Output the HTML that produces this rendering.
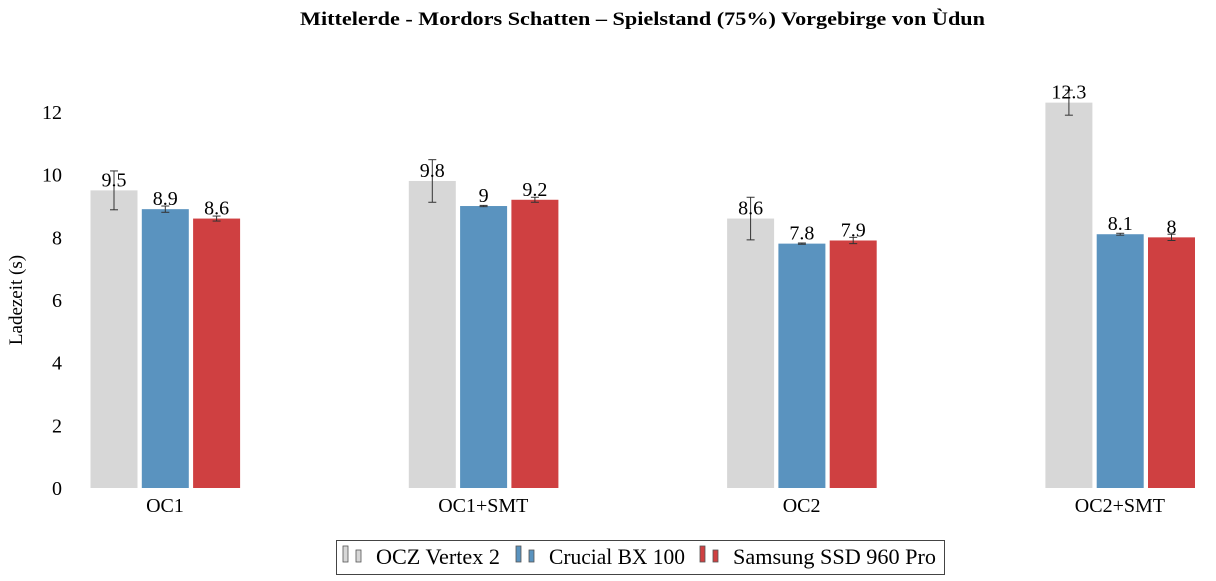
<!DOCTYPE html>
<html><head><meta charset="utf-8"><style>
body{margin:0;background:#fff;width:1216px;height:576px;overflow:hidden}
svg text{font-family:"Liberation Serif",serif;fill:#000}
</style></head><body>
<svg id="chart" width="1216" height="576">
<text x="300" y="25" textLength="685" lengthAdjust="spacingAndGlyphs" font-size="19" font-weight="bold">Mittelerde - Mordors Schatten – Spielstand (75%) Vorgebirge von Ùdun</text>
<text transform="translate(22,300) rotate(-90)" text-anchor="middle" font-size="19">Ladezeit (s)</text>
<g id="yticks"></g><g id="bars"></g><g id="xlabels"></g>
<g>
<rect x="336.5" y="540.5" width="608" height="34" fill="#fff" stroke="#444"/>
<g id="legend"></g>
</g>
</svg>
<script>
const categories=["OC1","OC1+SMT","OC2","OC2+SMT"];
const seriesNames=["OCZ Vertex 2","Crucial BX 100","Samsung SSD 960 Pro"];
const ocz=[9.5,9.8,8.6,12.3];
const crucial=[8.9,9,7.8,8.1];
const samsung=[8.6,9.2,7.9,8];
const oczErr=[0.62,0.68,0.68,0.4];
const crucialErr=[0.1,0.02,0.02,0.03];
const samsungErr=[0.08,0.08,0.1,0.1];
const yTicks=[0,2,4,6,8,10,12];
const colors=["#d7d7d7","#5a93bf","#cf4041"];
const ns="http://www.w3.org/2000/svg";
const y0=488,pxPer=31.33;
function y(v){return y0-v*pxPer;}
function gx(i){return 165+i*318.3;}
function mk(t,a,p){const e=document.createElementNS(ns,t);for(const k in a)e.setAttribute(k,a[k]);p.appendChild(e);return e;}
const yt=document.getElementById('yticks');
yTicks.forEach(v=>{const t=mk('text',{x:62,y:y(v)+7,'text-anchor':'end','font-size':20},yt);t.textContent=v;

});
const bars=document.getElementById('bars');
const series=[ocz,crucial,samsung],errs=[oczErr,crucialErr,samsungErr];
const bw=47,step=51.3;
categories.forEach((c,i)=>{
 series.forEach((s,j)=>{
  const x=gx(i)-bw*1.5-4+j*step;
  const r=mk('rect',{x:x,y:y(s[i]),width:bw,height:s[i]*pxPer,fill:colors[j]},bars);
  
  
  const cx=x+bw/2,e=errs[j][i];
  const g=mk('g',{stroke:'#333','stroke-width':1},bars);
  
  
  mk('line',{x1:cx,x2:cx,y1:y(s[i]+e),y2:y(s[i]-e)},g);
  mk('line',{x1:cx-4,x2:cx+4,y1:y(s[i]+e),y2:y(s[i]+e)},g);
  mk('line',{x1:cx-4,x2:cx+4,y1:y(s[i]-e),y2:y(s[i]-e)},g);
  const t=mk('text',{x:cx,y:y(s[i])-4,'text-anchor':'middle','font-size':20},bars);
  t.textContent=s[i];
  
  
 });
 const t=mk('text',{x:gx(i),y:512,'text-anchor':'middle','font-size':20},document.getElementById('xlabels'));
 t.textContent=c;
 
 
});
const lg=document.getElementById('legend');
const lx=[343,516,700];
const lw=[124,136,203];
seriesNames.forEach((n,j)=>{
 const g=mk('g',{},lg);
 
 
 mk('rect',{x:lx[j],y:546,width:5,height:16,fill:colors[j],stroke:'#555','stroke-width':0.8},g);
 mk('rect',{x:lx[j]+13,y:550,width:5,height:12,fill:colors[j],stroke:'#555','stroke-width':0.8},g);
 const t=mk('text',{x:lx[j]+33,y:564,'font-size':22,textLength:lw[j],lengthAdjust:'spacingAndGlyphs'},g);t.textContent=n;
});
</script>
</body></html>
